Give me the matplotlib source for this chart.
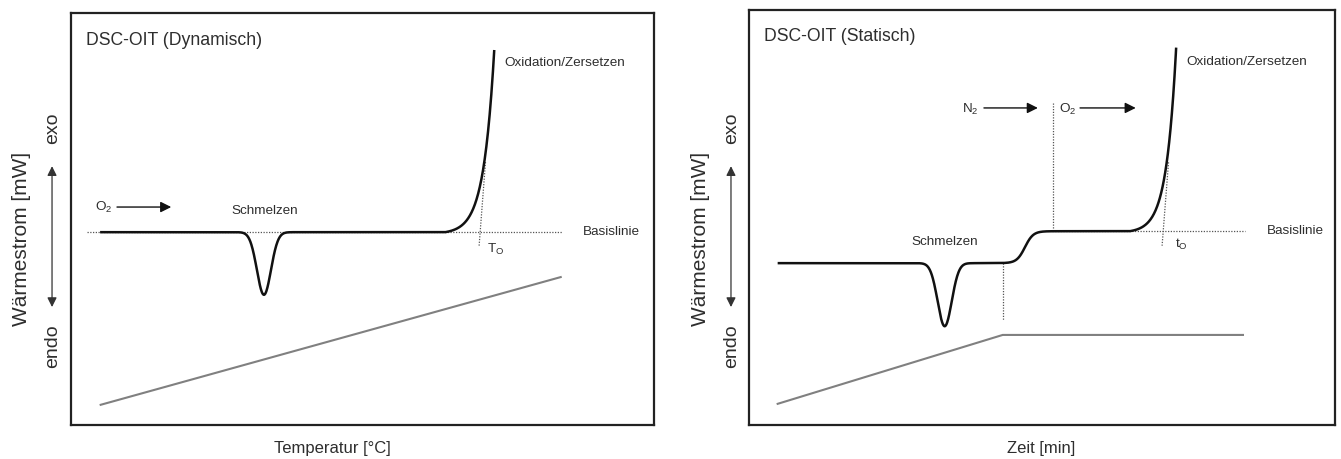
import matplotlib
matplotlib.use("Agg")
import matplotlib.pyplot as plt
import numpy as np

plt.rcParams["font.family"] = ["Liberation Sans", "DejaVu Sans"]
plt.rcParams["mathtext.fontset"] = "custom"
plt.rcParams["mathtext.rm"] = "Liberation Sans"
plt.rcParams["mathtext.it"] = "Liberation Sans:italic"

# ---------------------------------------------------------
# Data (schematic units, 0..100 on both axes)
# ---------------------------------------------------------

# left panel: dynamic OIT (temperature ramp)
dyn_trace_x = [5.0, 72.6]            # start / end of heat flow trace
dyn_level = 46.8                     # baseline heat flow
dyn_melt = [33.1, 15.2, 1.2]         # centre, depth, width of melting dip
dyn_oxid = [64.2, 0.44, 0.55]        # onset, amplitude, growth rate
dyn_baseline_x = [2.7, 84.2]
dyn_tangent_x = [71.1, 70.0]
dyn_tangent_y = [63.8, 43.4]
dyn_temp_x = [5.1, 84.0]             # temperature programme (gray)
dyn_temp_y = [4.9, 35.9]

# right panel: static OIT (isothermal)
stat_trace_x = [4.9, 72.9]
stat_level = 39.0
stat_melt = [33.4, 15.2, 1.2]
stat_step = [47.1, 7.7, 1.4]         # centre, height, width of N2 -> O2 step
stat_oxid = [65.0, 0.39, 0.6]
stat_baseline_x = [51.7, 84.6]
stat_tangent_x = [71.6, 70.5]
stat_tangent_y = [63.3, 43.2]
stat_temp_x = [4.9, 43.3, 84.3]
stat_temp_y = [5.1, 21.7, 21.7]
stat_marks_x = [43.3, 51.9]          # dotted vertical markers
stat_marks_y = [[39.0, 25.3], [77.6, 46.7]]

ink = "#111111"
text_col = "#2e2e2e"
gray = "#808080"
dot_col = "#555555"


def heat_flow(x, level, melt, oxid, step=None):
    y = level - melt[1] * np.exp(-0.5 * ((x - melt[0]) / melt[2]) ** 2)
    base = level
    if step is not None:
        y = y + step[1] * 0.5 * (1 + np.tanh((x - step[0]) / step[2]))
        base = level + step[1]
    dx = np.clip(x - oxid[0], 0, None)
    y = y + oxid[1] * (np.exp(oxid[2] * dx) - 1)
    return y, base


fig = plt.figure(figsize=(13.41, 4.59), dpi=100)
ax1 = fig.add_axes([0.0529, 0.0741, 0.4348, 0.8976])
ax2 = fig.add_axes([0.5585, 0.0741, 0.4370, 0.9041])

for ax in (ax1, ax2):
    ax.set_xlim(0, 100)
    ax.set_ylim(0, 100)
    ax.set_xticks([])
    ax.set_yticks([])
    for sp in ax.spines.values():
        sp.set_linewidth(1.6)
        sp.set_color("#222222")

# ---------------------------------------------------------
# Left panel
# ---------------------------------------------------------

x = np.linspace(dyn_trace_x[0], dyn_trace_x[1], 1200)
y, base = heat_flow(x, dyn_level, dyn_melt, dyn_oxid)
ax1.plot(dyn_baseline_x, [base, base], ls=(0, (1, 1.2)), lw=0.9, color=dot_col)
ax1.plot(dyn_tangent_x, dyn_tangent_y, ls=(0, (1, 1.2)), lw=0.9, color=dot_col)
ax1.plot(x, y, color=ink, lw=1.8, solid_capstyle="butt")
ax1.plot(dyn_temp_x, dyn_temp_y, color=gray, lw=1.5)

ax1.text(2.6, 93.4, "DSC-OIT (Dynamisch)", fontsize=12.7, color=text_col, va="center")
ax1.text(74.3, 87.9, "Oxidation/Zersetzen", fontsize=9.7, color=text_col, va="center")
ax1.text(87.8, base, "Basislinie", fontsize=9.7, color=text_col, va="center")
ax1.text(33.3, 52.0, "Schmelzen", fontsize=9.7, color=text_col, ha="center", va="center")
ax1.text(71.4, 42.6, r"T$_\mathrm{O}$", fontsize=9.7, color=text_col, va="center")
ax1.text(4.1, 52.7, r"O$_\mathrm{2}$", fontsize=9.7, color=text_col, va="center")
ax1.annotate("", xy=(17.2, 52.9), xytext=(7.9, 52.9),
             arrowprops=dict(arrowstyle="-|>", color=ink, lw=1.0, mutation_scale=16,
                             shrinkA=0, shrinkB=0))

# ---------------------------------------------------------
# Right panel
# ---------------------------------------------------------

x = np.linspace(stat_trace_x[0], stat_trace_x[1], 1200)
y, base = heat_flow(x, stat_level, stat_melt, stat_oxid, stat_step)
ax2.plot(stat_baseline_x, [base, base], ls=(0, (1, 1.2)), lw=0.9, color=dot_col)
ax2.plot(stat_tangent_x, stat_tangent_y, ls=(0, (1, 1.2)), lw=0.9, color=dot_col)
for mx, my in zip(stat_marks_x, stat_marks_y):
    ax2.plot([mx, mx], my, ls=(0, (1, 1.2)), lw=0.9, color=dot_col)
ax2.plot(x, y, color=ink, lw=1.8, solid_capstyle="butt")
ax2.plot(stat_temp_x, stat_temp_y, color=gray, lw=1.5)

ax2.text(2.6, 93.5, "DSC-OIT (Statisch)", fontsize=12.7, color=text_col, va="center")
ax2.text(74.6, 87.5, "Oxidation/Zersetzen", fontsize=9.7, color=text_col, va="center")
ax2.text(88.4, base, "Basislinie", fontsize=9.7, color=text_col, va="center")
ax2.text(33.4, 44.1, "Schmelzen", fontsize=9.7, color=text_col, ha="center", va="center")
ax2.text(72.7, 43.6, r"t$_\mathrm{O}$", fontsize=9.7, color=text_col, va="center")
ax2.text(37.7, 76.1, r"N$_\mathrm{2}$", fontsize=9.7, color=text_col, ha="center", va="center")
ax2.text(54.4, 76.1, r"O$_\mathrm{2}$", fontsize=9.7, color=text_col, ha="center", va="center")
for x0, x1 in [(40.1, 49.3), (56.5, 66.0)]:
    ax2.annotate("", xy=(x1, 76.4), xytext=(x0, 76.4),
                 arrowprops=dict(arrowstyle="-|>", color=ink, lw=1.0, mutation_scale=16,
                                 shrinkA=0, shrinkB=0))

# ---------------------------------------------------------
# Outer labels (exo / endo, y and x labels)
# ---------------------------------------------------------

panels = [
    dict(ylab_x=0.0164, arrow_x=0.0388, xlab_x=0.2476, xlab="Temperatur [°C]"),
    dict(ylab_x=0.5220, arrow_x=0.5451, xlab_x=0.7763, xlab="Zeit [min]"),
]
for p in panels:
    fig.text(p["ylab_x"], 0.479, "Wärmestrom [mW]", rotation=90, fontsize=15,
             color=text_col, ha="center", va="center")
    fig.text(p["arrow_x"] + 0.0008, 0.720, "exo", rotation=90, fontsize=14,
             color=text_col, ha="center", va="center")
    fig.text(p["arrow_x"] + 0.0008, 0.246, "endo", rotation=90, fontsize=14,
             color=text_col, ha="center", va="center")
    fig.add_artist(matplotlib.patches.FancyArrowPatch(
        (p["arrow_x"], 0.325), (p["arrow_x"], 0.644), transform=fig.transFigure,
        arrowstyle="<|-|>", mutation_scale=14, lw=0.9, color="#333333"))
    fig.text(p["xlab_x"], 0.022, p["xlab"], fontsize=12, color=text_col,
             ha="center", va="center")

fig.savefig("out.png", dpi=100)
